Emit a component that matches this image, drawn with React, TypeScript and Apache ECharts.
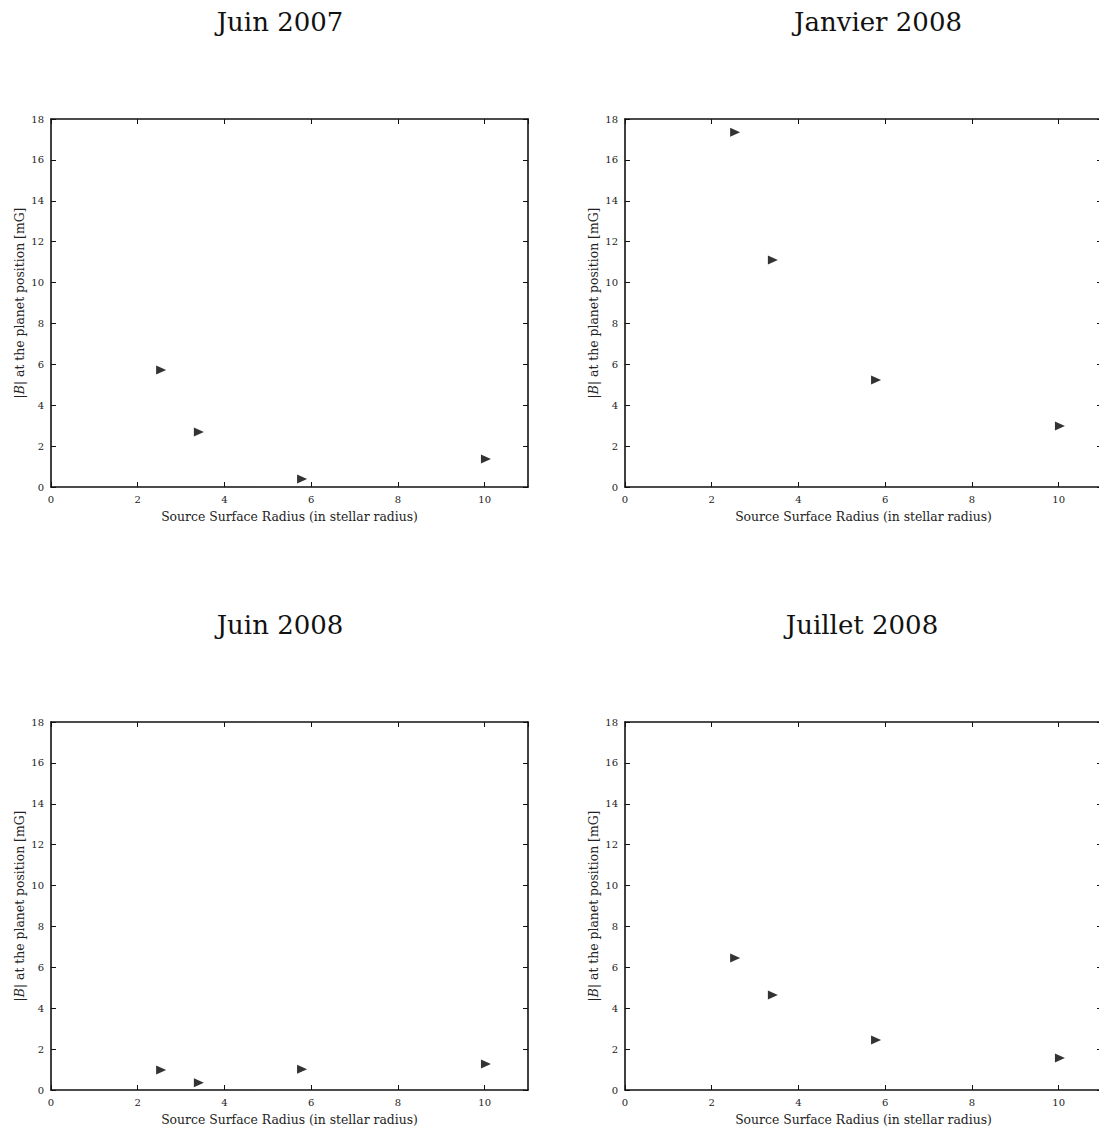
import React, { useEffect, useRef } from "react";
import * as echarts from "echarts";

const panelTitles = ["Juin 2007", "Janvier 2008", "Juin 2008", "Juillet 2008"];
const radii = [2.54, 3.41, 5.79, 10.03];
const fieldJuin2007 = [5.72, 2.69, 0.39, 1.37];
const fieldJanvier2008 = [17.35, 11.1, 5.23, 2.98];
const fieldJuin2008 = [0.98, 0.35, 1.02, 1.27];
const fieldJuillet2008 = [6.46, 4.65, 2.45, 1.57];
const xTickStep = 2;
const yTickStep = 2;

const seriesValues = [fieldJuin2007, fieldJanvier2008, fieldJuin2008, fieldJuillet2008];

const FONT = "DejaVu Serif";

export default function App() {
  const ref = useRef<HTMLDivElement>(null);
  useEffect(() => {
    document.body.style.margin = "0";
    document.body.style.overflow = "hidden";
    const chart = echarts.init(ref.current!, null, { renderer: "svg" });
    const lefts = [51, 625, 51, 625];
    const tops = [119, 119, 722, 722];
    const W = 477;
    const H = 368;
    const titleX = [280, 878, 280, 862];
    const titleY = [22, 22, 625, 625];

    const grids: any[] = [];
    const xAxes: any[] = [];
    const yAxes: any[] = [];
    const series: any[] = [];
    const lineStyle = { color: "#111", width: 1.6 };
    const tick = { show: true, inside: true, length: 5, lineStyle: { color: "#111", width: 1 } };

    for (let i = 0; i < 4; i++) {
      grids.push({ left: lefts[i], top: tops[i], width: W, height: H, containLabel: false });
      const base = {
        gridIndex: i,
        type: "value",
        min: 0,
        max: 11,
        interval: xTickStep,
        splitLine: { show: false },
        axisLine: { show: true, onZero: false, lineStyle },
        axisTick: tick,
      };
      xAxes.push({
        ...base,
        position: "bottom",
        name: "Source Surface Radius (in stellar radius)",
        nameLocation: "middle",
        nameGap: 23,
        nameTextStyle: { fontFamily: FONT, fontSize: 12.4, color: "#222" },
        axisLabel: { fontFamily: FONT, fontSize: 10, color: "#222", margin: 7, showMaxLabel: false },
      });
      xAxes.push({ ...base, position: "top", axisLabel: { show: false } });
      const ybase = {
        gridIndex: i,
        type: "value",
        min: 0,
        max: 18,
        interval: yTickStep,
        splitLine: { show: false },
        axisLine: { show: true, onZero: false, lineStyle },
        axisTick: tick,
      };
      yAxes.push({
        ...ybase,
        position: "left",
        name: "{b||}{i|B}{b|| at the planet position [mG]}",
        nameLocation: "middle",
        nameGap: 26,
        nameTextStyle: {
          fontFamily: FONT,
          fontSize: 12.4,
          color: "#222",
          rich: {
            b: { fontFamily: FONT, fontSize: 12.4, color: "#222" },
            i: { fontFamily: FONT, fontSize: 12.4, color: "#222", fontStyle: "italic" },
          },
        },
        axisLabel: { fontFamily: FONT, fontSize: 10, color: "#222", margin: 7 },
      });
      yAxes.push({ ...ybase, position: "right", axisLabel: { show: false } });
      series.push({
        type: "scatter",
        xAxisIndex: i * 2,
        yAxisIndex: i * 2,
        symbol: "triangle",
        symbolRotate: -90,
        symbolSize: [9, 10],
        itemStyle: { color: "#000" },
        data: radii.map((r, k) => [r, seriesValues[i][k]]),
      });
    }

    chart.setOption({
      animation: false,
      backgroundColor: "#fff",
      grid: grids,
      xAxis: xAxes,
      yAxis: yAxes,
      series,
      graphic: panelTitles.map((t, i) => ({
        type: "text",
        x: titleX[i],
        y: titleY[i],
        style: {
          text: t,
          fontFamily: FONT,
          fontSize: 26,
          fill: "#111",
          textAlign: "center",
          textVerticalAlign: "middle",
        },
      })),
    });
    return () => chart.dispose();
  }, []);
  return <div ref={ref} style={{ width: 1120, height: 1133 }} />;
}
